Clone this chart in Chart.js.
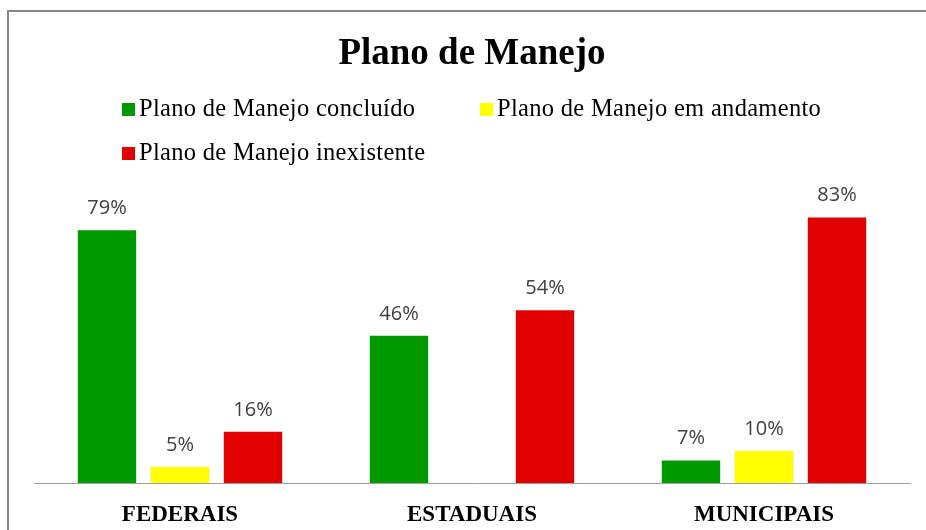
<!DOCTYPE html>
<html>
<head>
<meta charset="utf-8">
<script src="https://cdn.jsdelivr.net/npm/chart.js@4"></script>
<style>
  html, body { margin: 0; padding: 0; background: #fff; overflow: hidden; }
  #wrap { position: relative; width: 926px; height: 530px; }
  #frame { position: absolute; left: 7px; top: 10px; width: 1000px; height: 600px;
           border-left: 2px solid #878787; border-top: 2px solid #878787; }
  canvas { position: absolute; left: 0; top: 0; }
</style>
</head>
<body>
<div id="wrap">
  <div id="frame"></div>
  <canvas id="chart" width="926" height="530"></canvas>
</div>
<script>
// dados do gráfico
const titulo = 'Plano de Manejo';
const categorias = ['FEDERAIS', 'ESTADUAIS', 'MUNICIPAIS'];
const series = ['Plano de Manejo concluído', 'Plano de Manejo em andamento', 'Plano de Manejo inexistente'];
const concluido = [79, 46, 7];
const andamento = [5, 0, 10];
const inexistente = [16, 54, 83];
const cores = ['#009900', '#ffff00', '#e00000'];

// posições da legenda (estilo Excel, duas linhas)
const legendaPos = [
    { x: 122, y: 109 },
    { x: 480, y: 109 },
    { x: 122, y: 153 }
];

// plugin para título e legenda
const tituloLegenda = {
    id: 'tituloLegenda',
    afterDraw(chart) {
        const ctx = chart.ctx;
        ctx.save();
        ctx.fillStyle = '#000';
        ctx.textBaseline = 'middle';
        ctx.textAlign = 'center';
        ctx.font = 'bold 37px "Liberation Serif", "Times New Roman", serif';
        ctx.fillText(titulo, 472, 54);

        ctx.textAlign = 'left';
        ctx.font = '24.5px "Liberation Serif", "Times New Roman", serif';
        ctx.letterSpacing = '0.3px';
        chart.data.datasets.forEach((ds, i) => {
            const p = legendaPos[i];
            ctx.fillStyle = ds.backgroundColor;
            ctx.fillRect(p.x, p.y - 6, 13, 13);
            ctx.fillStyle = '#000';
            ctx.fillText(ds.label, p.x + 17, p.y + 1);
        });
        ctx.restore();
    }
};

// plugin para os rótulos de percentagem
const rotulos = {
    id: 'rotulos',
    afterDatasetsDraw(chart) {
        const ctx = chart.ctx;
        ctx.save();
        ctx.fillStyle = '#404040';
        ctx.font = '20px "Open Sans", sans-serif';
        ctx.textAlign = 'center';
        ctx.textBaseline = 'middle';
        chart.data.datasets.forEach((ds, i) => {
            chart.getDatasetMeta(i).data.forEach((bar, j) => {
                if (!ds.data[j]) return;
                ctx.fillText(ds.data[j] + '%', bar.x, bar.y - 22);
            });
        });
        ctx.restore();
    }
};

new Chart(document.getElementById('chart'), {
    type: 'bar',
    data: {
        labels: categorias,
        datasets: [
            { label: series[0], data: concluido, backgroundColor: cores[0] },
            { label: series[1], data: andamento, backgroundColor: cores[1] },
            { label: series[2], data: inexistente, backgroundColor: cores[2] }
        ]
    },
    options: {
        responsive: false,
        animation: false,
        devicePixelRatio: 1,
        categoryPercentage: 0.75,
        barPercentage: 0.8,
        layout: { padding: { top: 195, left: 34, right: 16, bottom: 0 } },
        plugins: {
            legend: { display: false },
            title: { display: false },
            tooltip: { enabled: false }
        },
        scales: {
            x: {
                grid: { display: false },
                border: { display: true, color: '#a0a0a0', width: 1 },
                ticks: {
                    color: '#000',
                    padding: 10,
                    font: { family: '"Liberation Serif", "Times New Roman", serif', size: 23, weight: 'bold' }
                },
                afterFit: s => { s.height = 47; }
            },
            y: {
                display: false,
                min: 0,
                max: 90
            }
        }
    },
    plugins: [tituloLegenda, rotulos]
});
</script>
</body>
</html>
